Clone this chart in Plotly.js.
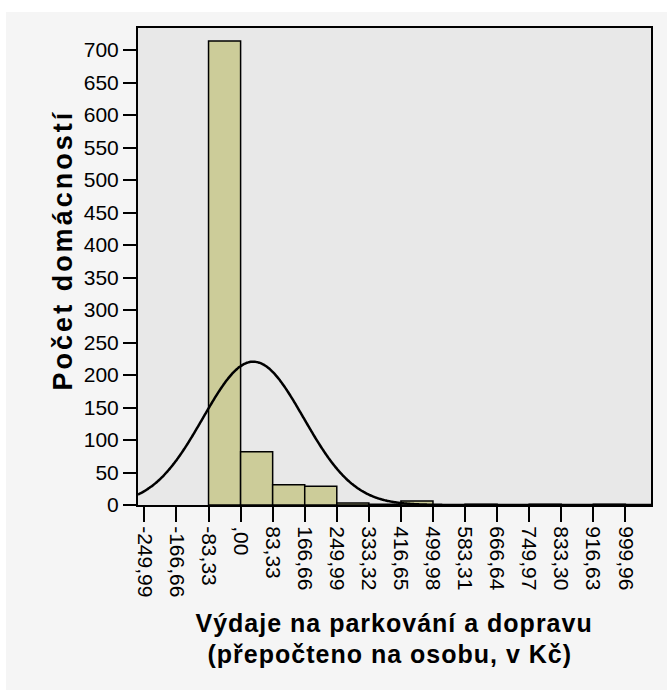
<!DOCTYPE html>
<html>
<head>
<meta charset="utf-8">
<script src="https://cdn.plot.ly/plotly-3.0.1.min.js"></script>
<style>
  html, body { margin: 0; padding: 0; background: #ffffff; }
  #wrap { position: relative; width: 667px; height: 690px; overflow: hidden; }
  #frame { position: absolute; left: 6px; top: 12px; width: 661px; height: 678px; background: #f5f5f5; }
  #chart { position: absolute; left: 0; top: 0; width: 667px; height: 690px; }
  .annotation[data-index="0"] text { letter-spacing: 3px; }
  .annotation[data-index="1"] text, .annotation[data-index="2"] text { letter-spacing: 1px; }
</style>
</head>
<body>
<div id="wrap">
  <div id="frame"></div>
  <div id="chart"></div>
</div>
<script>
// ---- data ----
const binStarts = [-83.33, 0, 83.33, 166.66, 249.99, 333.32, 416.65, 499.98, 583.31, 666.64, 749.97, 833.30, 916.63];
const counts    = [714, 82, 31, 29, 3, 1, 6, 0, 1, 0, 1, 0, 1];
const binWidth  = 83.33;

const tickVals = [-249.99, -166.66, -83.33, 0, 83.33, 166.66, 249.99, 333.32, 416.65, 499.98, 583.31, 666.64, 749.97, 833.30, 916.63, 999.96];
const tickText = ["-249,99", "-166,66", "-83,33", ",00", "83,33", "166,66", "249,99", "333,32", "416,65", "499,98", "583,31", "666,64", "749,97", "833,30", "916,63", "999,96"];

// fitted normal curve parameters (as drawn by the original)
const normalMean = 33;
const normalSD   = 131;

const xTitleLine1 = "Výdaje na parkování a dopravu";
const xTitleLine2 = "(přepočteno na osobu, v Kč)";
const yTitle = "Počet domácností";

const xRange = [-266.65, 1066.6];
const yRange = [0, 734];

// ---- build traces ----
const barCenters = binStarts.map(s => s + binWidth / 2);
const nTotal = counts.reduce((a, b) => a + b, 0);

const curveX = [];
const curveY = [];
const steps = 400;
for (let i = 0; i <= steps; i++) {
  const x = xRange[0] + (xRange[1] - xRange[0]) * i / steps;
  const z = (x - normalMean) / normalSD;
  curveX.push(x);
  curveY.push(nTotal * binWidth * Math.exp(-0.5 * z * z) / (normalSD * Math.sqrt(2 * Math.PI)));
}

const bars = {
  type: 'bar',
  x: barCenters,
  y: counts,
  width: binWidth,
  marker: { color: '#cccc99', line: { color: '#000000', width: 1.5 } },
  hoverinfo: 'skip'
};

const curve = {
  type: 'scatter',
  mode: 'lines',
  x: curveX,
  y: curveY,
  line: { color: '#000000', width: 2.5, shape: 'spline' },
  hoverinfo: 'skip'
};

const fontFam = '"Liberation Sans", Arial, Helvetica, sans-serif';

const layout = {
  width: 667,
  height: 690,
  margin: { l: 138, r: 16, t: 28, b: 185, pad: 0 },
  paper_bgcolor: 'rgba(0,0,0,0)',
  plot_bgcolor: '#e8e8e8',
  showlegend: false,
  bargap: 0,
  font: { family: fontFam, color: '#000000', size: 21 },
  xaxis: {
    range: xRange,
    tickmode: 'array',
    tickvals: tickVals,
    ticktext: tickText,
    tickangle: 90,
    ticks: 'outside',
    ticklen: 15,
    tickwidth: 2,
    tickcolor: '#000000',
    showline: true,
    linecolor: '#000000',
    linewidth: 2,
    mirror: true,
    showgrid: false,
    zeroline: false,
    tickfont: { family: fontFam, size: 21, color: '#000000' }
  },
  yaxis: {
    range: yRange,
    tickmode: 'linear',
    tick0: 0,
    dtick: 50,
    ticks: 'outside',
    ticklen: 13,
    tickwidth: 2,
    tickcolor: '#000000',
    showline: true,
    linecolor: '#000000',
    linewidth: 2,
    mirror: true,
    showgrid: false,
    zeroline: false,
    tickfont: { family: fontFam, size: 21, color: '#000000' }
  },
  annotations: [
    {
      text: yTitle, xref: 'paper', yref: 'paper',
      x: -0.147, y: 0.535, xanchor: 'center', yanchor: 'middle',
      textangle: -90, showarrow: false,
      font: { family: fontFam, size: 27, color: '#000000', weight: 'bold' }
    },
    {
      text: xTitleLine1, xref: 'paper', yref: 'paper',
      x: 0.499, y: -0.247, xanchor: 'center', yanchor: 'middle',
      showarrow: false,
      font: { family: fontFam, size: 25, color: '#000000', weight: 'bold' }
    },
    {
      text: xTitleLine2, xref: 'paper', yref: 'paper',
      x: 0.491, y: -0.312, xanchor: 'center', yanchor: 'middle',
      showarrow: false,
      font: { family: fontFam, size: 25, color: '#000000', weight: 'bold' }
    }
  ]
};

Plotly.newPlot('chart', [bars, curve], layout, { staticPlot: true, displayModeBar: false });
</script>
</body>
</html>
